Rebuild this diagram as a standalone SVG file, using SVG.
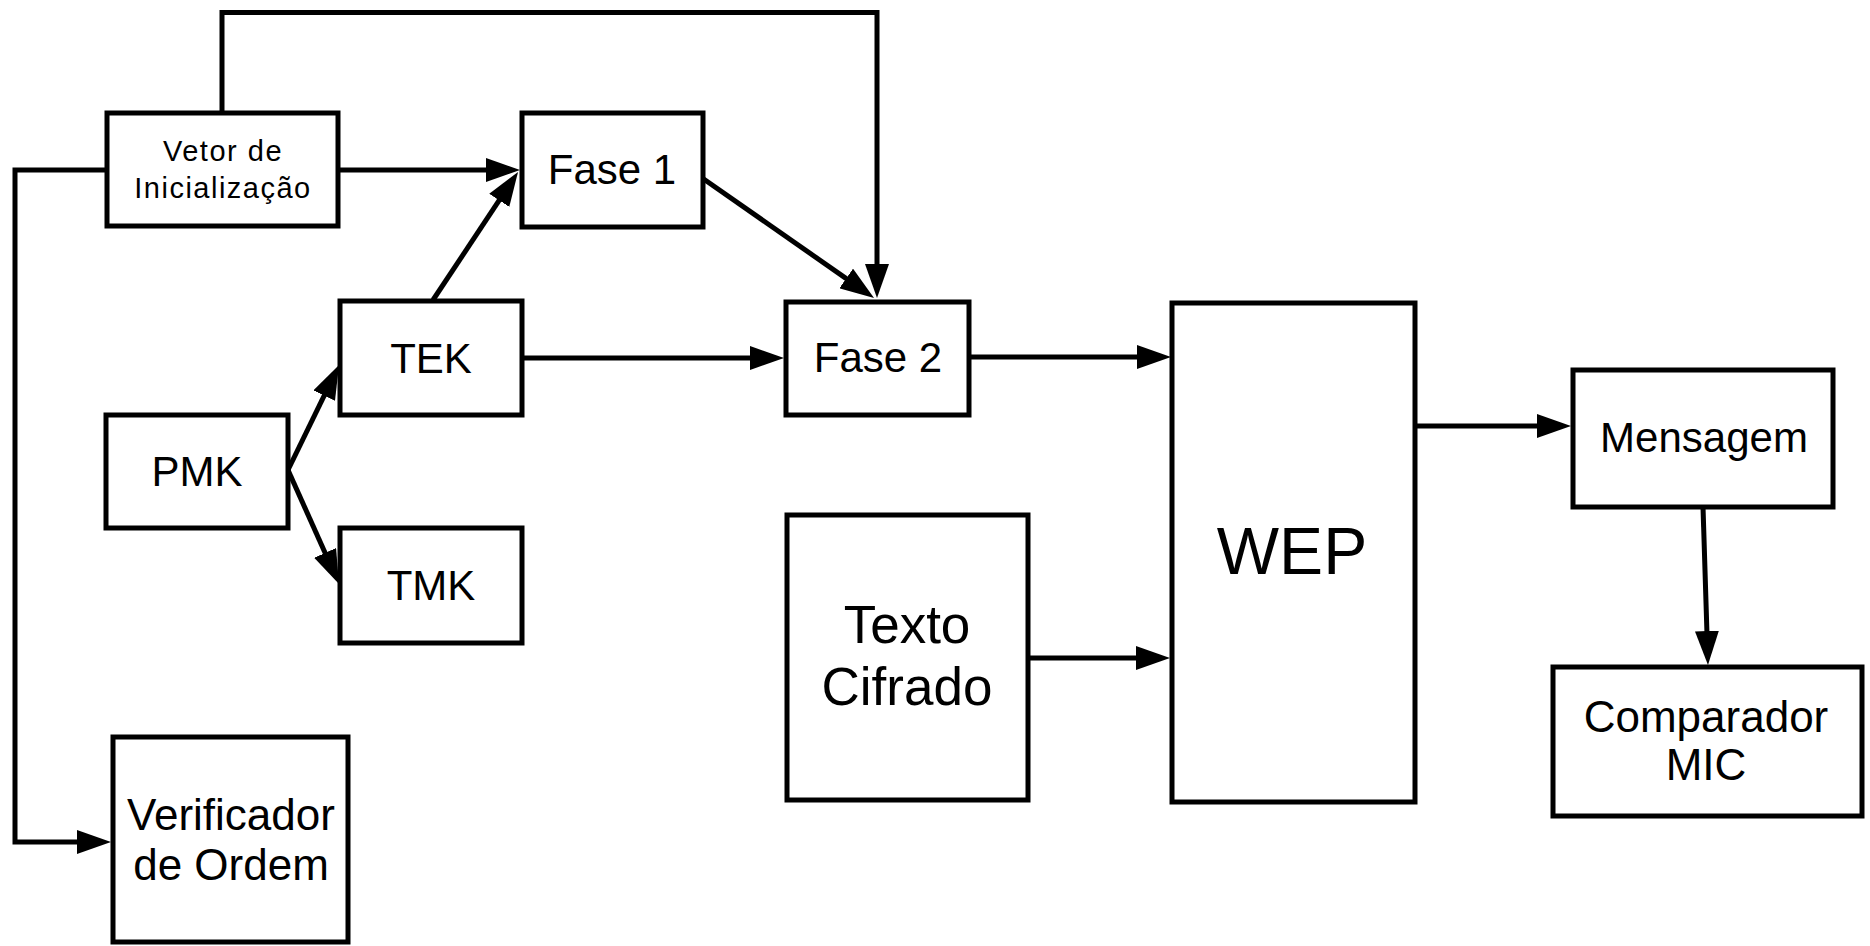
<svg xmlns="http://www.w3.org/2000/svg" width="1870" height="946" viewBox="0 0 1870 946">
  <style>
    .box { fill: #fff; stroke: #000; stroke-width: 5; }
    .lbl { font-family: "Liberation Sans", Arial, sans-serif; fill: #000; text-anchor: middle; }
    .wire { fill: none; stroke: #000; stroke-width: 5; stroke-linejoin: miter; }
    .arr { marker-end: url(#head); }
  </style>
  <defs>
    <marker id="head" markerUnits="userSpaceOnUse" markerWidth="34" markerHeight="24" refX="22" refY="12" orient="auto">
      <path d="M0,0 L34,12 L0,24 Z" fill="#000"/>
    </marker>
  </defs>
  <rect width="1870" height="946" fill="#fff"/>

  <g id="connectors">
    <!-- Vetor de Inicialização -> Fase 1 -->
    <path class="wire arr" d="M338,170 H508"/>
    <!-- Vetor de Inicialização -> Fase 2 (over the top) -->
    <path class="wire arr" d="M222,113 V12.5 H877 V286"/>
    <!-- Vetor de Inicialização -> Verificador de Ordem (down the left side) -->
    <path class="wire arr" d="M107,170 H15 V842 H99"/>
    <!-- TEK -> Fase 1 -->
    <path class="wire arr" d="M433,300 L511.4,182"/>
    <!-- Fase 1 -> Fase 2 -->
    <path class="wire arr" d="M695,173 L864.2,291.1"/>
    <!-- TEK -> Fase 2 -->
    <path class="wire arr" d="M522,358 H772"/>
    <!-- PMK -> TEK / TMK -->
    <path class="wire arr" d="M288,470 L333.8,375.8"/>
    <path class="wire arr" d="M288,470 L334.1,573"/>
    <!-- Fase 2 -> WEP -->
    <path class="wire arr" d="M969,357 H1159"/>
    <!-- Texto Cifrado -> WEP -->
    <path class="wire arr" d="M1028,658 H1158"/>
    <!-- WEP -> Mensagem -->
    <path class="wire arr" d="M1415,426 H1559"/>
    <!-- Mensagem -> Comparador MIC -->
    <path class="wire arr" d="M1703,507 L1707.6,653"/>
  </g>

  <g id="vetor">
    <rect class="box" x="107" y="113" width="231" height="113"/>
    <text class="lbl" x="223" y="161" font-size="29" letter-spacing="1.5">Vetor de</text>
    <text class="lbl" x="223" y="198" font-size="29" letter-spacing="1.5">Inicialização</text>
  </g>
  <g id="fase1">
    <rect class="box" x="522" y="113" width="181" height="114"/>
    <text class="lbl" x="612" y="184" font-size="42">Fase 1</text>
  </g>
  <g id="tek">
    <rect class="box" x="340" y="301" width="182" height="114"/>
    <text class="lbl" x="431" y="373" font-size="42">TEK</text>
  </g>
  <g id="fase2">
    <rect class="box" x="786" y="302" width="183" height="113"/>
    <text class="lbl" x="878" y="372" font-size="42">Fase 2</text>
  </g>
  <g id="pmk">
    <rect class="box" x="106" y="415" width="182" height="113"/>
    <text class="lbl" x="197" y="486" font-size="42">PMK</text>
  </g>
  <g id="tmk">
    <rect class="box" x="340" y="528" width="182" height="115"/>
    <text class="lbl" x="431" y="600" font-size="42">TMK</text>
  </g>
  <g id="verificador">
    <rect class="box" x="113" y="737" width="235" height="205"/>
    <text class="lbl" x="231" y="830" font-size="44">Verificador</text>
    <text class="lbl" x="231" y="880" font-size="44">de Ordem</text>
  </g>
  <g id="texto-cifrado">
    <rect class="box" x="787" y="515" width="241" height="285"/>
    <text class="lbl" x="907" y="643" font-size="53">Texto</text>
    <text class="lbl" x="907" y="705" font-size="53">Cifrado</text>
  </g>
  <g id="wep">
    <rect class="box" x="1172" y="303" width="243" height="499"/>
    <text class="lbl" x="1292" y="574" font-size="66">WEP</text>
  </g>
  <g id="mensagem">
    <rect class="box" x="1573" y="370" width="260" height="137"/>
    <text class="lbl" x="1704" y="452" font-size="42">Mensagem</text>
  </g>
  <g id="comparador">
    <rect class="box" x="1553" y="667" width="309" height="149"/>
    <text class="lbl" x="1706" y="732" font-size="44">Comparador</text>
    <text class="lbl" x="1706" y="780" font-size="44">MIC</text>
  </g>
</svg>
